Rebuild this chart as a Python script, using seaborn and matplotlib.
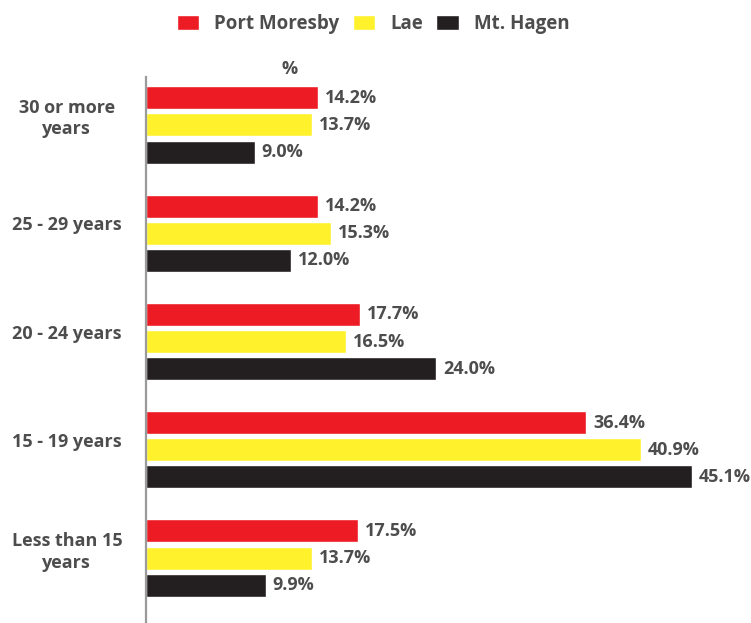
import pandas as pd
import matplotlib
matplotlib.use("Agg")
import matplotlib.pyplot as plt
import matplotlib.transforms as mtransforms
import seaborn as sns

# age groups (top to bottom) and share of respondents per city, in %
age_groups = ["30 or more\nyears", "25 - 29 years", "20 - 24 years",
              "15 - 19 years", "Less than 15\nyears"]
cities = ["Port Moresby", "Lae", "Mt. Hagen"]
port_moresby = [14.2, 14.2, 17.7, 36.4, 17.5]
lae = [13.7, 15.3, 16.5, 40.9, 13.7]
mt_hagen = [9.0, 12.0, 24.0, 45.1, 9.9]

colors = {"Port Moresby": "#ED1C24", "Lae": "#FFF22D", "Mt. Hagen": "#231F20"}
text_color = "#4D4D4D"

rows = []
for city, vals in zip(cities, [port_moresby, lae, mt_hagen]):
    for grp, v in zip(age_groups, vals):
        rows.append({"age": grp, "city": city, "pct": v})
df = pd.DataFrame(rows)

sns.set_theme(style="white")
plt.rcParams["font.family"] = ["Open Sans", "DejaVu Sans"]
plt.rcParams["font.weight"] = "bold"

fig = plt.figure(figsize=(7.51, 6.23), dpi=100)
ax = fig.add_axes([146 / 751, 0, 1 - 146 / 751, 1 - 77 / 623])

sns.barplot(data=df, x="pct", y="age", hue="city", order=age_groups,
            hue_order=cities, palette=colors, orient="h", width=0.75,
            gap=0.15, saturation=1, ax=ax)

for cont in ax.containers:
    ax.bar_label(cont, fmt="%.1f%%", padding=5, fontsize=13,
                 fontweight="bold", color=text_color)

ax.set_xlim(0, 50)
ax.set_ylim(4.6, -0.443)
ax.set_xlabel("")
ax.set_ylabel("")
ax.set_xticks([])
for s in ["top", "right", "bottom"]:
    ax.spines[s].set_visible(False)
ax.spines["left"].set_color("#9A9A9A")
ax.spines["left"].set_linewidth(1.6)

ax.tick_params(axis="y", length=0, pad=57, labelsize=13, labelcolor=text_color)
shift = mtransforms.ScaledTranslation(0, 10 / 100, fig.dpi_scale_trans)
for lbl in ax.get_yticklabels():
    lbl.set_horizontalalignment("center")
    lbl.set_multialignment("center")
    lbl.set_fontweight("bold")
    lbl.set_linespacing(1.25)
    lbl.set_transform(lbl.get_transform() + shift)

fig.text(290 / 751, 1 - 69 / 623, "%", ha="center", va="center",
         fontsize=13, fontweight="bold", color=text_color)

handles, labels = ax.get_legend_handles_labels()
ax.get_legend().remove()
fig.legend(handles, labels, loc="center", bbox_to_anchor=(373 / 751, 1 - 24 / 623),
           ncol=3, frameon=False, handlelength=1.2, handleheight=0.9,
           handletextpad=0.8, columnspacing=0.7, labelcolor=text_color,
           prop={"weight": "bold", "size": 13.5})

fig.savefig("out.png", dpi=100)
